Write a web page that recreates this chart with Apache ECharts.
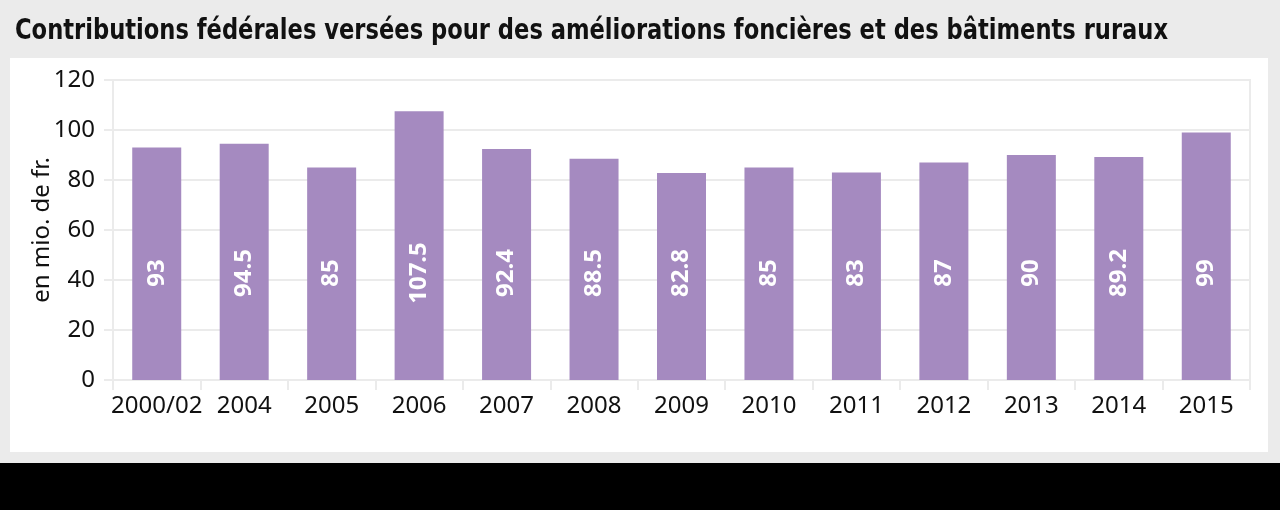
<!DOCTYPE html>
<html>
<head>
<meta charset="utf-8">
<script src="https://cdn.jsdelivr.net/npm/echarts@6/dist/echarts.min.js"></script>
<style>
html,body{margin:0;padding:0;background:#ebebeb;}
#c{width:1280px;height:510px;}
</style>
</head>
<body>
<div id="c"></div>
<script>
var titleText = 'Contributions fédérales versées pour des améliorations foncières et des bâtiments ruraux';
var yAxisName = 'en mio. de fr.';
var categories = ['2000/02','2004','2005','2006','2007','2008','2009','2010','2011','2012','2013','2014','2015'];
var values = [93, 94.5, 85, 107.5, 92.4, 88.5, 82.8, 85, 83, 87, 90, 89.2, 99];
var yMin = 0, yMax = 120, yInterval = 20;

var titleFont = 'bold 29px "DejaVu Sans Condensed", "DejaVu Sans", sans-serif';
var cv = document.createElement('canvas').getContext('2d');
cv.font = titleFont;
var titleW = cv.measureText(titleText).width;
var titleScale = 1153 / titleW;

var chart = echarts.init(document.getElementById('c'), null, {renderer:'canvas'});
var lineCol = '#ebebeb';
chart.setOption({
  backgroundColor: '#ebebeb',
  animation: false,
  graphic: [
    {type:'rect', shape:{x:10, y:58, width:1258, height:394}, style:{fill:'#ffffff'}, z:-10, silent:true},
    {type:'rect', shape:{x:0, y:463, width:1280, height:47}, style:{fill:'#000000'}, z:-10, silent:true},
    {type:'text', x:15, y:31, scaleX:titleScale, scaleY:1,
     style:{text:titleText, font:titleFont, fill:'#111111', textVerticalAlign:'middle', verticalAlign:'middle'}}
  ],
  grid: {left:113, right:30, top:80, bottom:130, show:true, borderColor:lineCol, borderWidth:2, backgroundColor:'transparent'},
  xAxis: {
    type:'category', data:categories,
    axisLine:{show:true, lineStyle:{color:lineCol, width:2}},
    axisTick:{show:true, length:10, lineStyle:{color:lineCol, width:2}},
    axisLabel:{interval:0, color:'#111111', fontSize:24, fontFamily:'"Noto Sans", sans-serif', margin:14}
  },
  yAxis: {
    type:'value', min:yMin, max:yMax, interval:yInterval,
    name:yAxisName, nameLocation:'middle', nameGap:59, nameMoveOverlap:false,
    nameTextStyle:{color:'#111111', fontSize:24, fontFamily:'"Noto Sans", sans-serif'},
    axisLine:{show:true, lineStyle:{color:lineCol, width:2}},
    axisTick:{show:true, length:9, lineStyle:{color:lineCol, width:2}},
    splitLine:{show:true, lineStyle:{color:lineCol, width:2}},
    axisLabel:{color:'#111111', fontSize:24, fontFamily:'"Noto Sans", sans-serif', margin:18}
  },
  series: [{
    type:'bar', data:values, barWidth:49,
    itemStyle:{color:'#a58ac0'},
    label:{show:true, position:'insideBottom', distance:107, rotate:90, align:'center', verticalAlign:'middle',
      color:'#ffffff', fontSize:24, fontWeight:'bold', fontFamily:'"Noto Sans", sans-serif',
      formatter:function(p){return String(p.value);}}
  }]
});
</script>
</body>
</html>
